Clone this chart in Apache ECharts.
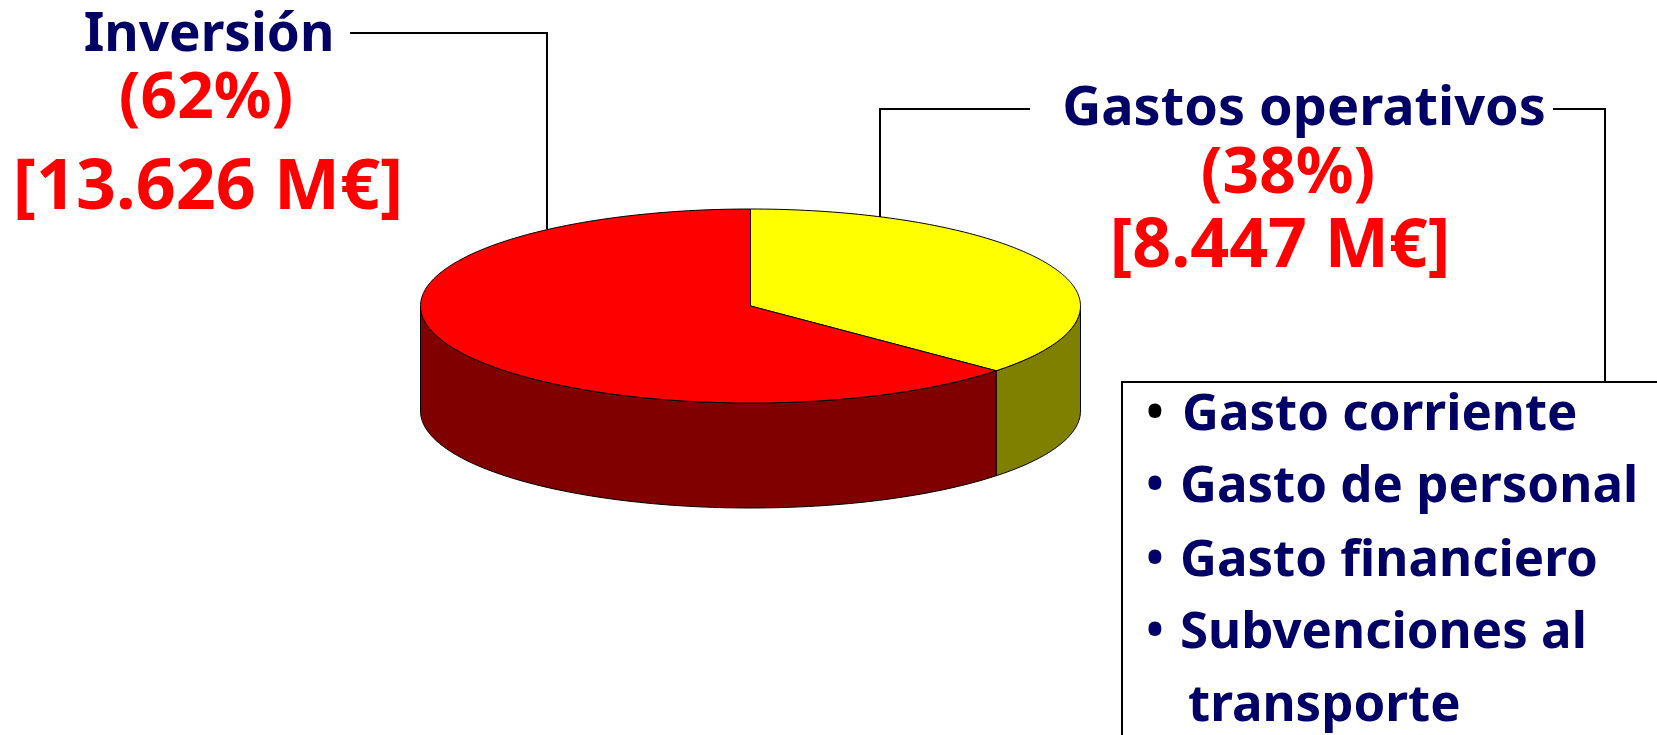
<!DOCTYPE html>
<html>
<head>
<meta charset="utf-8">
<style>
  html, body { margin: 0; padding: 0; background: #fff; overflow: hidden; }
  #main { width: 1657px; height: 735px; }
</style>
<script src="https://cdn.jsdelivr.net/npm/echarts@6/dist/echarts.min.js"></script>
</head>
<body>
<div id="main"></div>
<script>
var categories = ['Gastos operativos', 'Inversión'];
var amounts = [8447, 13626];
var shares = ['(38%)', '(62%)'];
var amountLabels = ['[8.447 M€]', '[13.626 M€]'];
var listItems = ['Gasto corriente', 'Gasto de personal', 'Gasto financiero', 'Subvenciones al', 'transporte'];

var topColors = ['#ffff00', '#ff0000'];
var sideColors = ['#808000', '#800000'];
var navy = '#000066';
var red = '#ff0000';
var font = '"Noto Sans"';

var cx = 750.5, cy = 306, rx = 330, ry = 97, depth = 105;
var total = amounts.reduce(function (a, b) { return a + b; }, 0);

// the original's perspective squeezes angles a bit towards the front
function warp(deg) {
  return deg + 5.9 * Math.sin(2 * deg * Math.PI / 180);
}

function rimPoint(deg, dy) {
  var a = warp(deg) * Math.PI / 180;
  return [cx + rx * Math.sin(a), cy - ry * Math.cos(a) + dy];
}

function arc(from, to, dy) {
  var pts = [];
  var n = Math.max(2, Math.ceil(Math.abs(to - from)));
  for (var i = 0; i <= n; i++) {
    pts.push(rimPoint(from + (to - from) * i / n, dy));
  }
  return pts;
}

function renderSlice(params, api) {
  var idx = params.dataIndex;
  var start = 0;
  for (var i = 0; i < idx; i++) start += amounts[i] / total * 360;
  var end = start + api.value(0) / total * 360;
  var children = [];

  // side wall only where the rim faces the viewer
  var sFrom = Math.max(start, 90), sTo = Math.min(end, 270);
  if (sTo > sFrom) {
    children.push({
      type: 'polygon',
      shape: { points: arc(sFrom, sTo, 0).concat(arc(sTo, sFrom, depth)) },
      style: { fill: sideColors[idx], stroke: '#000', lineWidth: 1 }
    });
  }
  children.push({
    type: 'polygon',
    shape: { points: [[cx, cy]].concat(arc(start, end, 0)) },
    style: { fill: topColors[idx], stroke: '#000', lineWidth: 1 }
  });
  return { type: 'group', children: children };
}

function label(text, x, y, size, color, align) {
  return {
    type: 'text',
    x: x,
    y: y,
    z: 10,
    style: {
      text: text,
      fill: color,
      font: 'bold ' + size + 'px ' + font,
      align: align || 'center',
      verticalAlign: 'middle'
    }
  };
}

function leader(points) {
  return {
    type: 'polyline',
    z: 5,
    shape: { points: points },
    style: { stroke: '#000', lineWidth: 2, fill: null }
  };
}

var graphics = [
  leader([[350, 33], [547, 33], [547, 229]]),
  leader([[1030, 109], [880, 109], [880, 217]]),
  leader([[1553, 109], [1605, 109], [1605, 382]]),
  {
    type: 'rect',
    z: 4,
    shape: { x: 1122, y: 382, width: 600, height: 400 },
    style: { fill: '#fff', stroke: '#000', lineWidth: 2 }
  },
  label(categories[1], 209, 36, 53, navy),
  label(shares[1], 206, 100, 64, red),
  label(amountLabels[1], 208, 189, 70, red),
  label(categories[0], 1304, 110, 54, navy),
  label(shares[0], 1288, 175, 64, red),
  label(amountLabels[0], 1280, 248, 68, red)
];

var listY = [415, 487, 561, 633, 706];
var listX = [1182, 1180, 1180, 1180, 1188];
listItems.forEach(function (item, i) {
  graphics.push(label(item, listX[i], listY[i], 51, navy, 'left'));
  if (i < 4) {
    graphics.push(label('•', 1155, listY[i], 46, i === 0 ? '#000' : navy));
  }
});

var chart = echarts.init(document.getElementById('main'));
chart.setOption({
  animation: false,
  backgroundColor: '#fff',
  graphic: graphics,
  series: [
    {
      type: 'custom',
      coordinateSystem: 'none',
      renderItem: renderSlice,
      silent: true,
      data: amounts.map(function (v, i) {
        return { name: categories[i], value: [v] };
      })
    }
  ]
});
</script>
</body>
</html>
